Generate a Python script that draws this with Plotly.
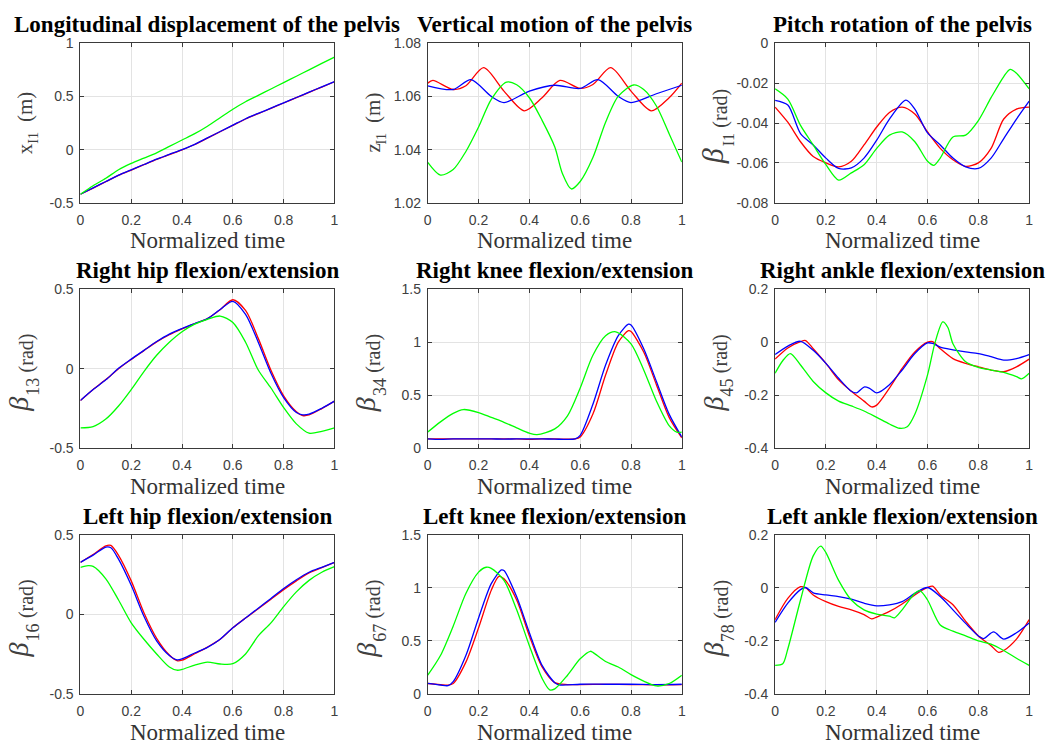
import plotly.graph_objects as go

# ---------------- data ----------------
T20 = [0, .05, .1, .15, .2, .25, .3, .35, .4, .45, .5, .55, .6, .65, .7, .75, .8, .85, .9, .95, 1]

# Panel 1: longitudinal displacement of the pelvis (m)
p1_red_t = T20
p1_red = [-0.42, -0.362, -0.302, -0.243, -0.192, -0.142, -0.092, -0.047, -0.002, 0.048, 0.108, 0.168, 0.228, 0.288, 0.338, 0.388, 0.438, 0.488, 0.538, 0.588, 0.638]
p1_blue_t = T20
p1_blue = [-0.42, -0.36, -0.30, -0.24, -0.19, -0.14, -0.09, -0.045, 0.0, 0.05, 0.11, 0.17, 0.23, 0.29, 0.34, 0.39, 0.44, 0.49, 0.54, 0.59, 0.64]
p1_green_t = T20
p1_green = [-0.42, -0.34, -0.27, -0.19, -0.13, -0.08, -0.03, 0.03, 0.09, 0.15, 0.22, 0.30, 0.38, 0.45, 0.51, 0.57, 0.63, 0.69, 0.75, 0.81, 0.87]

# Panel 2: vertical motion of the pelvis (m)
p2_red_t = [0, .02, .1, .15, .22, .3, .38, .45, .52, .6, .65, .72, .8, .88, .95, 1]
p2_red = [1.065, 1.066, 1.0626, 1.064, 1.0708, 1.062, 1.0546, 1.0595, 1.066, 1.063, 1.0645, 1.0708, 1.062, 1.0546, 1.0595, 1.065]
p2_blue_t = [0, .1, .17, .25, .3, .4, .5, .6, .67, .75, .8, .9, 1]
p2_blue = [1.064, 1.0626, 1.0663, 1.060, 1.0577, 1.062, 1.0642, 1.063, 1.0663, 1.060, 1.0577, 1.061, 1.0642]
p2_green_t = [0, .05, .1, .15, .2, .25, .31, .35, .4, .45, .5, .53, .565, .6, .65, .7, .75, .81, .85, .9, .95, 1]
p2_green = [1.0352, 1.0304, 1.0325, 1.0393, 1.0485, 1.0589, 1.0654, 1.0644, 1.0595, 1.051, 1.041, 1.031, 1.0252, 1.028, 1.037, 1.0503, 1.0601, 1.0643, 1.0626, 1.0564, 1.046, 1.0353]

# Panel 3: pitch rotation of the pelvis (rad)
p3_red_t = T20
p3_red = [-0.032, -0.0396, -0.0494, -0.0568, -0.060, -0.062, -0.0592, -0.051, -0.042, -0.0347, -0.032, -0.0355, -0.0445, -0.0527, -0.0584, -0.0617, -0.060, -0.0527, -0.038, -0.033, -0.032]
p3_blue_t = [0, .05, .1, .15, .2, .25, .3, .35, .4, .45, .515, .55, .6, .65, .7, .75, .8, .85, .9, .95, 1]
p3_blue = [-0.0286, -0.031, -0.0453, -0.051, -0.0576, -0.0628, -0.0625, -0.0576, -0.0486, -0.038, -0.0285, -0.033, -0.045, -0.051, -0.0576, -0.062, -0.0628, -0.0576, -0.0478, -0.038, -0.029]
p3_green_t = [0, .05, .1, .15, .2, .25, .3, .35, .4, .45, .5, .55, .6, .625, .65, .7, .75, .8, .85, .9, .925, .95, 1]
p3_green = [-0.0229, -0.028, -0.0412, -0.051, -0.0609, -0.0686, -0.065, -0.0609, -0.0527, -0.0461, -0.0445, -0.0494, -0.0592, -0.0612, -0.0576, -0.047, -0.0461, -0.0388, -0.0273, -0.0167, -0.0131, -0.015, -0.0229]

# Panel 4: right hip flexion/extension (rad)
p4_red_t = [0, .05, .1, .15, .2, .25, .3, .35, .4, .45, .5, .55, .6, .65, .7, .75, .8, .85, .875, .9, .95, 1]
p4_red = [-0.2, -0.13, -0.068, 0.0, 0.058, 0.113, 0.168, 0.213, 0.25, 0.283, 0.314, 0.37, 0.432, 0.365, 0.19, -0.01, -0.17, -0.27, -0.294, -0.29, -0.25, -0.203]
p4_blue_t = [0, .05, .1, .15, .2, .25, .3, .35, .4, .45, .5, .55, .6, .65, .7, .75, .8, .85, .875, .9, .95, 1]
p4_blue = [-0.199, -0.131, -0.07, 0.002, 0.06, 0.115, 0.17, 0.217, 0.252, 0.283, 0.314, 0.371, 0.422, 0.34, 0.166, -0.029, -0.182, -0.275, -0.289, -0.285, -0.248, -0.203]
p4_green_t = T20
p4_green = [-0.371, -0.363, -0.316, -0.234, -0.131, -0.018, 0.084, 0.166, 0.232, 0.279, 0.309, 0.33, 0.289, 0.166, -0.008, -0.121, -0.244, -0.346, -0.404, -0.393, -0.371]

# Panel 5: right knee flexion/extension (rad)
p5_red_t = [0, .05, .1, .15, .2, .25, .3, .35, .4, .45, .5, .55, .58, .6, .65, .7, .75, .79, .8, .85, .9, .95, 1]
p5_red = [0.09, 0.09, 0.09, 0.09, 0.09, 0.09, 0.09, 0.09, 0.085, 0.09, 0.09, 0.087, 0.09, 0.108, 0.323, 0.69, 1.0, 1.107, 1.10, 0.907, 0.6, 0.292, 0.1]
p5_blue_t = [0, .05, .1, .15, .2, .25, .3, .35, .4, .45, .5, .55, .58, .6, .65, .7, .75, .79, .8, .85, .9, .95, 1]
p5_blue = [0.09, 0.085, 0.09, 0.09, 0.09, 0.09, 0.088, 0.09, 0.09, 0.09, 0.088, 0.085, 0.09, 0.123, 0.415, 0.784, 1.06, 1.168, 1.16, 0.937, 0.63, 0.323, 0.108]
p5_green_t = [0, .05, .1, .14, .2, .25, .3, .35, .4, .43, .5, .55, .6, .65, .7, .74, .8, .85, .9, .95, .98, 1]
p5_green = [0.154, 0.25, 0.33, 0.366, 0.338, 0.292, 0.246, 0.194, 0.144, 0.13, 0.184, 0.307, 0.569, 0.876, 1.06, 1.097, 0.984, 0.738, 0.446, 0.215, 0.154, 0.154]

# Panel 6: right ankle flexion/extension (rad)
p6_red_t = [0, .05, .1, .12, .15, .2, .25, .3, .35, .38, .4, .45, .5, .55, .6, .62, .65, .7, .75, .8, .85, .9, .95, 1]
p6_red = [-0.064, -0.022, 0.002, 0.006, -0.025, -0.08, -0.142, -0.185, -0.222, -0.244, -0.237, -0.173, -0.099, -0.037, 0.0, 0.002, -0.025, -0.062, -0.08, -0.093, -0.105, -0.111, -0.093, -0.064]
p6_blue_t = [0, .05, .1, .15, .2, .25, .3, .32, .35, .37, .4, .45, .5, .55, .6, .62, .65, .7, .75, .8, .85, .9, .95, 1]
p6_blue = [-0.047, -0.015, 0.003, -0.031, -0.08, -0.136, -0.185, -0.191, -0.169, -0.173, -0.191, -0.16, -0.105, -0.043, -0.003, -0.005, -0.019, -0.029, -0.037, -0.043, -0.055, -0.068, -0.062, -0.047]
p6_green_t = [0, .03, .06, .1, .15, .2, .25, .3, .35, .4, .45, .49, .52, .55, .6, .63, .66, .68, .7, .75, .8, .85, .9, .95, .97, 1]
p6_green = [-0.117, -0.07, -0.043, -0.086, -0.148, -0.191, -0.222, -0.24, -0.259, -0.283, -0.308, -0.324, -0.318, -0.271, -0.123, 0.0, 0.076, 0.055, -0.006, -0.074, -0.095, -0.105, -0.114, -0.13, -0.138, -0.117]

# Panel 7: left hip flexion/extension (rad)
p7_red_t = [0, .05, .1, .12, .15, .2, .25, .3, .35, .38, .4, .45, .5, .55, .6, .65, .7, .75, .8, .85, .9, .95, 1]
p7_red = [0.326, 0.375, 0.43, 0.432, 0.37, 0.21, 0.01, -0.15, -0.255, -0.29, -0.287, -0.247, -0.205, -0.156, -0.084, -0.023, 0.035, 0.095, 0.155, 0.21, 0.26, 0.293, 0.326]
p7_blue_t = [0, .05, .1, .12, .15, .2, .25, .3, .35, .38, .4, .45, .5, .55, .6, .65, .7, .75, .8, .85, .9, .95, 1]
p7_blue = [0.326, 0.371, 0.422, 0.418, 0.346, 0.182, -0.012, -0.166, -0.258, -0.285, -0.279, -0.242, -0.207, -0.156, -0.084, -0.023, 0.039, 0.1, 0.162, 0.217, 0.264, 0.295, 0.326]
p7_green_t = [0, .03, .05, .1, .15, .2, .25, .3, .35, .38, .4, .45, .5, .55, .6, .65, .7, .75, .8, .85, .9, .95, 1]
p7_green = [0.295, 0.305, 0.301, 0.223, 0.09, -0.053, -0.156, -0.248, -0.33, -0.35, -0.345, -0.318, -0.299, -0.311, -0.309, -0.248, -0.135, -0.053, 0.049, 0.141, 0.213, 0.264, 0.299]

# Panel 8: left knee flexion/extension (rad)
p8_red_t = [0, .05, .08, .1, .15, .2, .25, .28, .3, .35, .4, .45, .5, .55, .6, .7, .8, .9, 1]
p8_red = [0.10, 0.09, 0.085, 0.10, 0.301, 0.624, 0.977, 1.107, 1.085, 0.885, 0.547, 0.255, 0.108, 0.09, 0.09, 0.092, 0.09, 0.088, 0.09]
p8_blue_t = [0, .05, .08, .1, .15, .2, .25, .29, .3, .35, .4, .45, .5, .52, .6, .7, .8, .9, 1]
p8_blue = [0.101, 0.086, 0.08, 0.117, 0.363, 0.716, 1.039, 1.168, 1.162, 0.916, 0.578, 0.27, 0.108, 0.086, 0.093, 0.093, 0.093, 0.09, 0.093]
p8_green_t = [0, .05, .1, .15, .2, .23, .25, .3, .35, .4, .45, .48, .5, .55, .6, .64, .65, .7, .75, .8, .85, .9, .95, 1]
p8_green = [0.178, 0.363, 0.639, 0.947, 1.147, 1.193, 1.183, 1.07, 0.793, 0.455, 0.148, 0.04, 0.049, 0.178, 0.332, 0.403, 0.393, 0.307, 0.255, 0.184, 0.123, 0.077, 0.1, 0.178]

# Panel 9: left ankle flexion/extension (rad)
p9_red_t = [0, .05, .1, .12, .15, .2, .25, .3, .35, .38, .4, .45, .5, .55, .6, .62, .65, .7, .75, .8, .85, .88, .9, .95, 1]
p9_red = [-0.12, -0.04, 0.004, 0.0, -0.027, -0.052, -0.07, -0.083, -0.101, -0.117, -0.11, -0.089, -0.061, -0.027, 0.001, 0.006, -0.027, -0.064, -0.126, -0.181, -0.218, -0.243, -0.236, -0.193, -0.12]
p9_blue_t = [0, .05, .1, .12, .15, .2, .25, .3, .35, .4, .45, .5, .55, .6, .65, .7, .75, .8, .82, .86, .9, .95, 1]
p9_blue = [-0.13, -0.058, -0.007, 0.001, -0.019, -0.027, -0.033, -0.043, -0.058, -0.068, -0.064, -0.052, -0.021, 0.001, -0.033, -0.083, -0.134, -0.181, -0.191, -0.166, -0.193, -0.169, -0.132]
p9_green_t = [0, .03, .05, .1, .15, .18, .2, .25, .3, .35, .4, .45, .47, .5, .55, .57, .6, .65, .7, .75, .8, .85, .9, .95, 1]
p9_green = [-0.292, -0.286, -0.23, -0.046, 0.12, 0.157, 0.132, 0.028, -0.046, -0.083, -0.099, -0.107, -0.113, -0.083, -0.021, -0.011, -0.046, -0.14, -0.163, -0.181, -0.2, -0.212, -0.236, -0.265, -0.292]

# axis ticks and labels
x_tickvals = [0, 0.2, 0.4, 0.6, 0.8, 1]
x_ticktext = ["0", "0.2", "0.4", "0.6", "0.8", "1"]

titles = ["Longitudinal displacement of the pelvis", "Vertical motion of the pelvis", "Pitch rotation of the pelvis",
          "Right hip flexion/extension", "Right knee flexion/extension", "Right ankle flexion/extension",
          "Left hip flexion/extension", "Left knee flexion/extension", "Left ankle flexion/extension"]
xlabel = "Normalized time"
ylab_symbol = ["x", "z", "β", "β", "β", "β", "β", "β", "β"]
ylab_sub = ["I1", "I1", "I1", "13", "34", "45", "16", "67", "78"]
ylab_unit = ["(m)", "(m)", "(rad)", "(rad)", "(rad)", "(rad)", "(rad)", "(rad)", "(rad)"]

y_ranges = [[-0.5, 1], [1.02, 1.08], [-0.08, 0], [-0.5, 0.5], [0, 1.5], [-0.4, 0.2], [-0.5, 0.5], [0, 1.5], [-0.4, 0.2]]
y_tickvals = [[-0.5, 0, 0.5, 1], [1.02, 1.04, 1.06, 1.08], [-0.08, -0.06, -0.04, -0.02, 0],
              [-0.5, 0, 0.5], [0, 0.5, 1, 1.5], [-0.4, -0.2, 0, 0.2],
              [-0.5, 0, 0.5], [0, 0.5, 1, 1.5], [-0.4, -0.2, 0, 0.2]]
y_ticktext = [["-0.5", "0", "0.5", "1"], ["1.02", "1.04", "1.06", "1.08"], ["-0.08", "-0.06", "-0.04", "-0.02", "0"],
              ["-0.5", "0", "0.5"], ["0", "0.5", "1", "1.5"], ["-0.4", "-0.2", "0", "0.2"],
              ["-0.5", "0", "0.5"], ["0", "0.5", "1", "1.5"], ["-0.4", "-0.2", "0", "0.2"]]

series = [
    [(p1_red_t, p1_red), (p1_blue_t, p1_blue), (p1_green_t, p1_green)],
    [(p2_red_t, p2_red), (p2_blue_t, p2_blue), (p2_green_t, p2_green)],
    [(p3_red_t, p3_red), (p3_blue_t, p3_blue), (p3_green_t, p3_green)],
    [(p4_red_t, p4_red), (p4_blue_t, p4_blue), (p4_green_t, p4_green)],
    [(p5_red_t, p5_red), (p5_blue_t, p5_blue), (p5_green_t, p5_green)],
    [(p6_red_t, p6_red), (p6_blue_t, p6_blue), (p6_green_t, p6_green)],
    [(p7_red_t, p7_red), (p7_blue_t, p7_blue), (p7_green_t, p7_green)],
    [(p8_red_t, p8_red), (p8_blue_t, p8_blue), (p8_green_t, p8_green)],
    [(p9_red_t, p9_red), (p9_blue_t, p9_blue), (p9_green_t, p9_green)],
]
colors = ["#ff0000", "#0000ff", "#00ff00"]

# ---------------- layout geometry (pixels) ----------------
W, H = 1055, 755
col_left = [77, 427, 777]
row_top = [36, 287, 538]
PW, PH = 256, 163

SERIF = "Liberation Serif, Times New Roman, serif"
SANS = "Liberation Sans, Arial, Helvetica, sans-serif"
AXC = "#3a3a3a"
LABC = "#404040"

# approximate advance widths (em) of Liberation Serif, used to lay out the y labels
EM = {"x": 0.5, "z": 0.444, "β": 0.62, "I": 0.333, "(": 0.333, ")": 0.333, "m": 0.778,
      "r": 0.333, "a": 0.444, "d": 0.5}


def text_len(s, size):
    return sum(EM.get(ch, 0.5) for ch in s) * size


fig = go.Figure()
layout = dict(width=W, height=H, autosize=False, margin=dict(l=0, r=0, t=0, b=0),
              paper_bgcolor="white", plot_bgcolor="white", showlegend=False)
annotations = []


def px_ann(text, xp, yp, size, angle=0, color="black", weight="normal", style="normal"):
    annotations.append(dict(text=text, x=xp / W, y=1 - yp / H, xref="paper", yref="paper",
                            xanchor="center", yanchor="middle", showarrow=False, textangle=angle,
                            font=dict(family=SERIF, size=size, color=color, weight=weight, style=style)))


for i in range(9):
    r, c = divmod(i, 3)
    n = "" if i == 0 else str(i + 1)
    x0 = col_left[c] / W
    x1 = (col_left[c] + PW) / W
    y1 = 1 - row_top[r] / H
    y0 = 1 - (row_top[r] + PH) / H
    for (t, v), col in zip(series[i], colors):
        fig.add_trace(go.Scatter(x=t, y=v, mode="lines", xaxis="x" + n, yaxis="y" + n,
                                 line=dict(color=col, width=1.3, shape="spline", smoothing=0.8),
                                 hoverinfo="skip"))
    common = dict(showline=True, linecolor=AXC, linewidth=1, mirror="ticks", ticks="inside",
                  ticklen=4, tickcolor=AXC, showgrid=True, gridcolor="#e3e3e3", gridwidth=1,
                  zeroline=False, tickfont=dict(family=SANS, size=14, color="#404040"))
    layout["xaxis" + n] = dict(domain=[x0, x1], anchor="y" + n, range=[0, 1],
                               tickmode="array", tickvals=x_tickvals, ticktext=x_ticktext,
                               ticklabelstandoff=4, **common)
    layout["yaxis" + n] = dict(domain=[y0, y1], anchor="x" + n, range=y_ranges[i],
                               tickmode="array", tickvals=y_tickvals[i], ticktext=y_ticktext[i],
                               ticklabelstandoff=3, **common)
    cxp = col_left[c] + PW / 2
    # title
    px_ann(titles[i], cxp, row_top[r] - 19, 23, weight="bold")
    # x label
    px_ann(xlabel, cxp, row_top[r] + PH + 39, 23, color="#333333")

    # y label: symbol, subscript and unit drawn as three rotated texts
    if ylab_symbol[i] == "β":
        fs, fb, fu, gap, shift, bx = (30, 16, 20, 7, 4, -5) if r == 0 else (28, 18, 20, 6, 5, -5)
        sym_style = "italic"
    else:
        fs, fb, fu, gap, shift, bx = 21, 14, 21, 10, 0, 0
        sym_style = "normal"
    ls = text_len(ylab_symbol[i], fs)
    lb = text_len(ylab_sub[i], fb)
    lu = text_len(ylab_unit[i], fu)
    total = ls + lb + gap + lu
    cy = row_top[r] + PH / 2 + shift
    bottom = cy + total / 2
    base = col_left[c] - 48          # baseline of the rotated label (x, px)
    px_ann(ylab_symbol[i], base + bx - 0.337 * fs, bottom - ls / 2, fs, angle=-90, color=LABC, style=sym_style)
    px_ann(ylab_sub[i], base + 6 - 0.337 * fb, bottom - ls - lb / 2, fb, angle=-90, color=LABC)
    px_ann(ylab_unit[i], base - 0.337 * fu, bottom - ls - lb - gap - lu / 2, fu, angle=-90, color=LABC)

layout["annotations"] = annotations
fig.update_layout(**layout)
fig.write_html("out.html")
